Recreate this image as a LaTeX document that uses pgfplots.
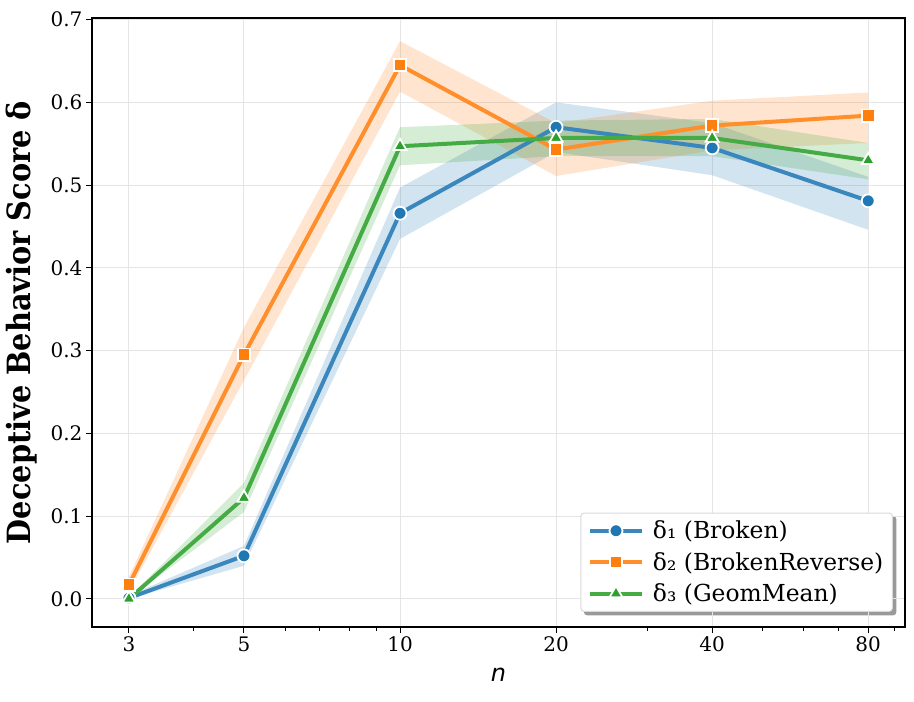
\documentclass[border=0pt]{standalone}
\usepackage{fontspec}
\setmainfont{DejaVu Serif}
\newfontfamily\ylabfont{DejaVu Serif Condensed Bold}
\newfontfamily\xlabfont{DejaVu Sans Oblique}
\usepackage{pgfplots}
\usepackage{pgfplotstable}
\pgfplotsset{compat=1.18}
\pgfdeclarelayer{bg}
\pgfsetlayers{bg,main}
\definecolor{cb}{HTML}{1F77B4}
\definecolor{co}{HTML}{FF7F0E}
\definecolor{cg}{HTML}{2CA02C}

\pgfplotstableread{
n   m
3   0.001
5   0.052
10  0.466
20  0.570
40  0.545
80  0.481
}\broken
\pgfplotstableread{
n   m
3   0.017
5   0.295
10  0.645
20  0.543
40  0.572
80  0.584
}\reverse
\pgfplotstableread{
n   m
3   0.000
5   0.122
10  0.547
20  0.557
40  0.557
80  0.530
}\geom

\begin{document}
\begin{tikzpicture}
\begin{axis}[
  scale only axis, width=813pt, height=609pt,
  xmode=log, xmin=2.546, xmax=94.2, ymin=-0.034, ymax=0.702,
  xtick={3,5,10,20,40,80}, xticklabels={3,5,10,20,40,80},
  minor xtick={4,6,7,8,9,30,50,60,70,90},
  ytick={0,0.1,0.2,0.3,0.4,0.5,0.6,0.7},
  yticklabel style={/pgf/number format/.cd, fixed, fixed zerofill, precision=1},
  /pgf/number format/assume math mode=true,
  ticklabel style={font=\fontsize{20}{24}\selectfont},
  grid=major, major grid style={black!10, line width=1pt},
  tick align=outside, tick pos=left, major tick length=6pt, minor tick length=3.5pt,
  every tick/.style={black, line width=1pt},
  axis line style={line width=1.1pt},
  xlabel={\xlabfont n}, ylabel={\ylabfont Deceptive Behavior Score δ},
  xlabel style={font=\fontsize{24}{28}\selectfont, at={(axis description cs:0.5,-0.079)}, anchor=center},
  ylabel style={font=\fontsize{32}{36}\selectfont, at={(axis description cs:-0.0865,0.5)}, anchor=center},
  legend style={name=leg, at={(0.985,0.025)}, anchor=south east, draw=black!15, line width=1pt, rounded corners=3pt, fill=white,
    font=\fontsize{23.4}{27}\selectfont, row sep=8pt, inner xsep=7pt, inner ysep=6pt,
    /tikz/every odd column/.append style={column sep=7pt}},
  legend cell align=left,
  legend image code/.code={\draw[mark repeat=2, mark phase=2, #1] plot coordinates {(0pt,0pt) (26pt,0pt) (52pt,0pt)};},
  every axis plot/.append style={line width=4pt},
]
% bands
\addplot[fill=cb, fill opacity=0.2, draw=none, forget plot] coordinates {(3,0.004)(5,0.064)(10,0.497)(20,0.600)(40,0.575)(80,0.510)(80,0.446)(40,0.512)(20,0.540)(10,0.435)(5,0.040)(3,0.000)} -- cycle;
\addplot[fill=co, fill opacity=0.2, draw=none, forget plot] coordinates {(3,0.027)(5,0.328)(10,0.674)(20,0.575)(40,0.602)(80,0.612)(80,0.551)(40,0.542)(20,0.511)(10,0.613)(5,0.264)(3,0.009)} -- cycle;
\addplot[fill=cg, fill opacity=0.2, draw=none, forget plot] coordinates {(3,0.002)(5,0.140)(10,0.570)(20,0.578)(40,0.580)(80,0.551)(80,0.507)(40,0.535)(20,0.535)(10,0.524)(5,0.105)(3,0.000)} -- cycle;
% lines
\addplot[cb!88!white, mark=*, mark size=6.5pt, mark options={fill=cb, draw=white, line width=1.8pt}] table[x=n, y=m] {\broken};
\addlegendentry{δ₁ (Broken)}
\addplot[co!88!white, mark=square*, mark size=6.2pt, mark options={fill=co, draw=white, line width=1.8pt}] table[x=n, y=m] {\reverse};
\addlegendentry{δ₂ (BrokenReverse)}
\addplot[cg!88!white, mark=triangle*, mark size=7.5pt, mark options={fill=cg, draw=white, line width=1.8pt}] table[x=n, y=m] {\geom};
\addlegendentry{δ₃ (GeomMean)}
\end{axis}
\begin{pgfonlayer}{bg}
\fill[black!40, rounded corners=3pt] ([xshift=3.5pt,yshift=-3.5pt]leg.south west) rectangle ([xshift=3.5pt,yshift=-3.5pt]leg.north east);
\end{pgfonlayer}
\pgfresetboundingbox
\path (current axis.south west) ++(-92pt,-75pt) rectangle ++(914pt,702pt);
\end{tikzpicture}
\end{document}
